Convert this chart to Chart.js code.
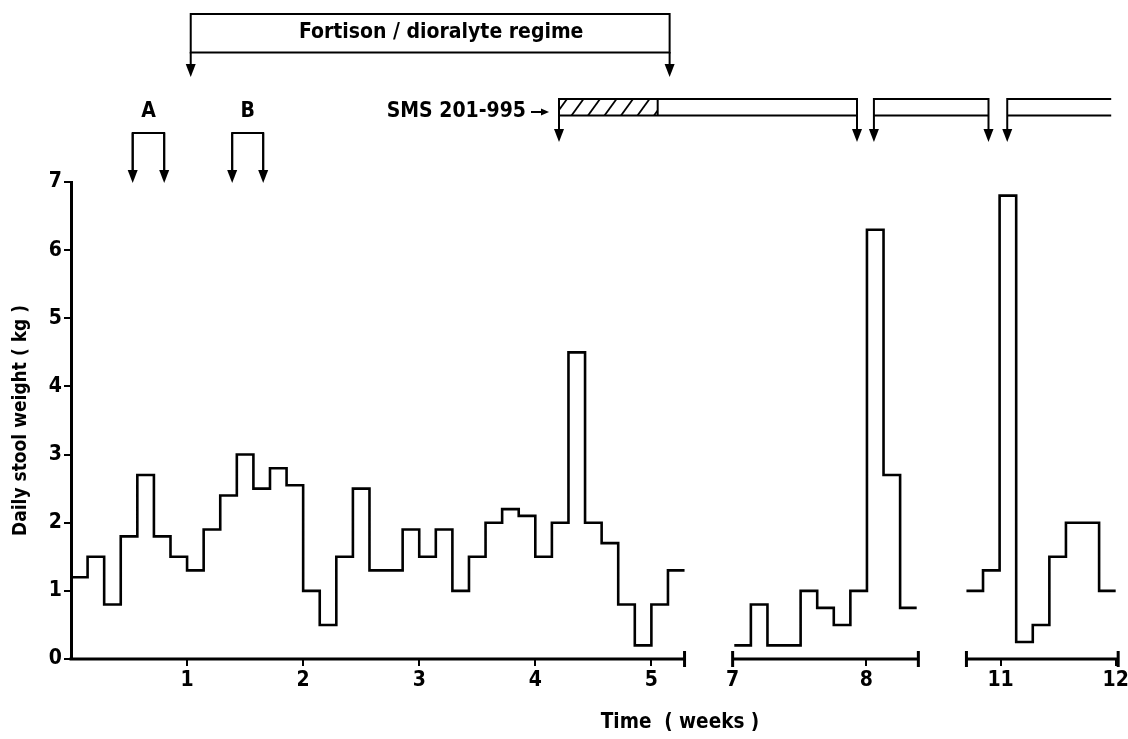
<!DOCTYPE html>
<html><head><meta charset="utf-8">
<script src="https://cdn.jsdelivr.net/npm/chart.js@4.4.0/dist/chart.umd.min.js"></script>
<style>html,body{margin:0;padding:0;background:#fff;}#wrap{width:1128px;height:739px;}</style>
</head><body><div id="wrap"><canvas id="c" width="1128" height="739"></canvas></div>
<script>
// ---- data: daily stool weight (kg), one value per day ----
const phase1Days = [1.2,1.5,0.8,1.8,2.7,1.8,1.5,1.3,1.9,2.4,3.0,2.5,2.8,2.55,1.0,0.5,1.5,2.5,1.3,1.3,1.9,1.5,1.9,1.0,1.5,2.0,2.2,2.1,1.5,2.0,4.5,2.0,1.7,0.8,0.2,0.8,1.3];
const phase2Days = [0.2,0.8,0.2,0.2,1.0,0.75,0.5,1.0,6.3,2.7,0.75];
const phase3Days = [1.0,1.3,6.8,0.25,0.5,1.5,2.0,2.0,1.0];
// day offset (on the broken time axis) where each recorded phase starts
const phaseStarts = [0, 40, 54];
// broken axis pieces [from, to]
const axisPieces = [[0, 37], [39.9, 51.1], [54, 63.15]];
// tick labels (weeks) and where they sit on the day axis
const weekTickLabels = ['1','2','3','4','5','7','8','11','12'];
const weekTickDays = [7, 14, 21, 28, 35, 39.9, 47.96, 56.06, 63.0];
// treatment periods (day axis)
const fortisonPeriod = [7.22, 36.1];
const challengeA = [3.72, 5.62];
const challengeB = [9.72, 11.59];
const smsHatched = [29.43, 35.38];
const smsCourses = [[29.43, 47.4], [48.42, 55.33], [56.46, 62.73]];

const FONT = "'DejaVu Sans Condensed', 'DejaVu Sans', sans-serif";
const W = 'bold';

function stepData(vals, start){
  const pts = vals.map((v,i)=>({x:start+i, y:v}));
  pts.push({x:start+vals.length, y:vals[vals.length-1]});
  return pts;
}

function arrowDown(ctx, x, y0, tip){
  ctx.beginPath(); ctx.moveTo(x, y0); ctx.lineTo(x, tip-10); ctx.stroke();
  ctx.beginPath(); ctx.moveTo(x-5, tip-13); ctx.lineTo(x+5, tip-13); ctx.lineTo(x, tip); ctx.closePath(); ctx.fill();
}

const annot = {
  id:'annot',
  afterDraw(chart){
    const ctx = chart.ctx, xs = chart.scales.x, ys = chart.scales.y;
    const px = v => xs.getPixelForValue(v);
    const base = ys.getPixelForValue(0);
    ctx.save();
    ctx.strokeStyle = '#000'; ctx.fillStyle = '#000';
    // broken x axis
    axisPieces.forEach(([a,b], i) => {
      ctx.lineWidth = 3;
      ctx.beginPath(); ctx.moveTo(px(a) - (i===0?1.5:0), base); ctx.lineTo(px(b), base); ctx.stroke();
      const cap = x => { ctx.beginPath(); ctx.moveTo(x, base-8); ctx.lineTo(x, base+8); ctx.stroke(); };
      if (i > 0) cap(px(a));
      cap(px(b));
    });
    // x title
    ctx.font = W + " 20.5px " + FONT; ctx.textAlign = 'center'; ctx.textBaseline = 'middle';
    ctx.fillText('Time  ( weeks )', 680, 723);

    ctx.lineWidth = 2;
    // Fortison box
    const f0 = px(fortisonPeriod[0]), f1 = px(fortisonPeriod[1]);
    ctx.strokeRect(f0, 14, f1-f0, 38.5);
    arrowDown(ctx, f0, 52, 77); arrowDown(ctx, f1, 52, 77);
    ctx.font = W + " 21px " + FONT;
    ctx.fillText('Fortison / dioralyte regime', (f0+f1)/2 + 11, 33);
    // A and B
    [[challengeA,'A'],[challengeB,'B']].forEach(([r, t]) => {
      const a = px(r[0]), b = px(r[1]);
      ctx.beginPath(); ctx.moveTo(a, 183-10); ctx.lineTo(a, 133); ctx.lineTo(b, 133); ctx.lineTo(b, 183-10); ctx.stroke();
      arrowDown(ctx, a, 133, 183); arrowDown(ctx, b, 133, 183);
      ctx.font = W + " 21px " + FONT;
      ctx.fillText(t, (a+b)/2, 112);
    });
    // SMS 201-995
    const top = 99, bot = 115.5;
    ctx.textAlign = 'right';
    ctx.font = W + " 21px " + FONT;
    ctx.fillText('SMS 201-995', 526, 112);
    ctx.beginPath(); ctx.moveTo(531, 112); ctx.lineTo(542, 112); ctx.stroke();
    ctx.beginPath(); ctx.moveTo(541, 108.5); ctx.lineTo(549, 112); ctx.lineTo(541, 115.5); ctx.closePath(); ctx.fill();
    // hatching
    const h0 = px(smsHatched[0]), h1 = px(smsHatched[1]);
    ctx.save();
    ctx.beginPath(); ctx.rect(h0, top, h1-h0, bot-top); ctx.clip();
    ctx.lineWidth = 1.8;
    for (let x = h0 - 4; x < h1 + 12; x += 16.5){
      ctx.beginPath(); ctx.moveTo(x, bot); ctx.lineTo(x+12, top); ctx.stroke();
    }
    ctx.restore();
    ctx.beginPath(); ctx.moveTo(h1, top); ctx.lineTo(h1, bot); ctx.stroke();
    smsCourses.forEach(([a,b], i) => {
      const xa = px(a), xb = px(b);
      ctx.beginPath(); ctx.moveTo(xa, top); ctx.lineTo(xb, top); ctx.moveTo(xa, bot); ctx.lineTo(xb, bot); ctx.stroke();
      arrowDown(ctx, xa, top-1, 142);
      if (i < smsCourses.length - 1) arrowDown(ctx, xb, top-1, 142);
    });
    ctx.restore();
  }
};

const ds = (vals, start) => ({
  data: stepData(vals, start), stepped: 'before', borderColor: '#000', borderWidth: 2.6,
  pointRadius: 0, fill: false
});

new Chart(document.getElementById('c'), {
  type: 'line',
  data: { datasets: [ds(phase1Days, phaseStarts[0]), ds(phase2Days, phaseStarts[1]), ds(phase3Days, phaseStarts[2])] },
  options: {
    responsive: false, animation: false, devicePixelRatio: 1,
    layout: { padding: { top: 182, left: 0, right: 9, bottom: 0 } },
    plugins: { legend: { display: false }, tooltip: { enabled: false } },
    scales: {
      x: {
        type: 'linear', min: 0, max: 63.2,
        afterBuildTicks(s){ s.ticks = weekTickDays.map(v => ({value: v})); },
        ticks: { autoSkip: false, maxRotation: 0, color: '#000', font: { family: FONT, size: 21, weight: W }, padding: 2,
                 callback: (v, i) => weekTickLabels[i] },
        grid: { display: true, drawOnChartArea: false, drawTicks: true, tickLength: 7, lineWidth: 2, color: '#000' },
        border: { display: false },
        afterFit(s){ s.height = 80; s.paddingLeft = 0; s.paddingRight = 0; }
      },
      y: {
        min: 0, max: 7,
        ticks: { stepSize: 1, color: '#000', font: { family: FONT, size: 21, weight: W }, padding: 2 },
        grid: { display: true, drawOnChartArea: false, drawTicks: true, tickLength: 7, lineWidth: 2, color: '#000' },
        border: { display: true, width: 3, color: '#000' },
        title: { display: true, text: 'Daily stool weight ( kg )', color: '#000', font: { family: FONT, size: 19, weight: W }, padding: { top: 10, bottom: 0 } },
        afterFit(s){ s.width = 71; }
      }
    }
  },
  plugins: [annot]
});
</script></body></html>
